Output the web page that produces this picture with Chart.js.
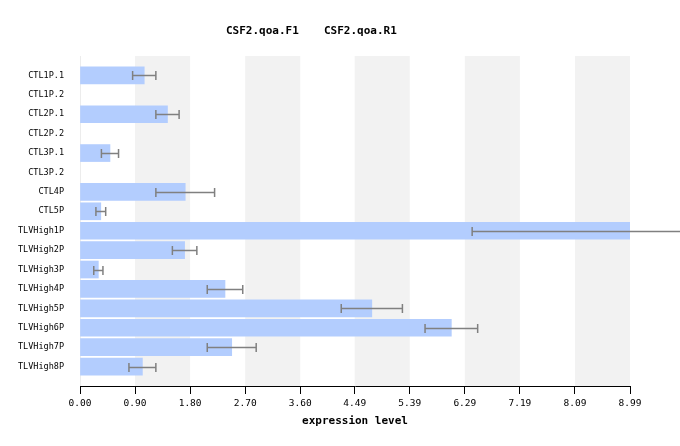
<!DOCTYPE html>
<html>
<head>
<meta charset="utf-8">
<script src="https://cdn.jsdelivr.net/npm/chart.js@4"></script>
<style>
  html, body { margin: 0; padding: 0; background: #fff; }
  #wrap { width: 680px; height: 446px; }
</style>
</head>
<body>
<div id="wrap"><canvas id="chart" width="680" height="446"></canvas></div>
<script>
// Data
const categories = [
  "CTL1P.1", "CTL1P.2", "CTL2P.1", "CTL2P.2", "CTL3P.1", "CTL3P.2",
  "CTL4P", "CTL5P", "TLVHigh1P", "TLVHigh2P", "TLVHigh3P", "TLVHigh4P",
  "TLVHigh5P", "TLVHigh6P", "TLVHigh7P", "TLVHigh8P"
];
const means = [1.05, null, 1.43, null, 0.49, null, 1.72, 0.34, 8.99, 1.71, 0.30, 2.37, 4.77, 6.07, 2.48, 1.02];
const errors = [0.19, null, 0.19, null, 0.14, null, 0.48, 0.08, 2.58, 0.20, 0.075, 0.29, 0.50, 0.43, 0.40, 0.22];
const tickLabels = ["0.00", "0.90", "1.80", "2.70", "3.60", "4.49", "5.39", "6.29", "7.19", "8.09", "8.99"];
const seriesNames = ["CSF2.qoa.F1", "CSF2.qoa.R1"];

const MONO = "'DejaVu Sans Mono', monospace";

// alternating grey bands between ticks + faint left line
const bandsPlugin = {
  id: "bands",
  beforeDatasetsDraw(chart) {
    const { ctx, chartArea, scales } = chart;
    const x = scales.x;
    ctx.save();
    ctx.fillStyle = "#f2f2f2";
    for (let i = 1; i + 1 < tickLabels.length; i += 2) {
      const x0 = x.getPixelForValue(Number(tickLabels[i]));
      const x1 = x.getPixelForValue(Number(tickLabels[i + 1]));
      ctx.fillRect(x0, chartArea.top, x1 - x0, chartArea.bottom - chartArea.top);
    }
    ctx.strokeStyle = "#ececec";
    ctx.lineWidth = 1;
    ctx.beginPath();
    ctx.moveTo(chartArea.left + 0.5, chartArea.top);
    ctx.lineTo(chartArea.left + 0.5, chartArea.bottom);
    ctx.stroke();
    ctx.restore();
  }
};

// error bars drawn from the data arrays, not clipped to the chart area
const errorBarPlugin = {
  id: "errorBars",
  afterDatasetsDraw(chart) {
    const { ctx, scales } = chart;
    ctx.save();
    ctx.strokeStyle = "#808080";
    ctx.lineWidth = 1.5;
    means.forEach((m, i) => {
      if (m == null || errors[i] == null) return;
      const y = Math.round(scales.y.getPixelForValue(i)) + 0.5;
      const lo = scales.x.getPixelForValue(m - errors[i]);
      const hi = scales.x.getPixelForValue(m + errors[i]);
      ctx.beginPath();
      ctx.moveTo(lo, y);
      ctx.lineTo(hi, y);
      ctx.moveTo(lo, y - 4.5);
      ctx.lineTo(lo, y + 4.5);
      ctx.moveTo(hi, y - 4.5);
      ctx.lineTo(hi, y + 4.5);
      ctx.stroke();
    });
    ctx.restore();
  }
};

// header text and axis title
const textPlugin = {
  id: "texts",
  afterDraw(chart) {
    const { ctx, chartArea } = chart;
    ctx.save();
    ctx.fillStyle = "#000";
    ctx.font = "bold 11px " + MONO;
    ctx.textBaseline = "middle";
    ctx.textAlign = "left";
    ctx.fillText(seriesNames[0], 226, 31);
    ctx.fillText(seriesNames[1], 324, 31);
    ctx.textAlign = "center";
    ctx.fillText("expression level", (chartArea.left + chartArea.right) / 2, 421);
    ctx.restore();
  }
};

const chart = new Chart(document.getElementById("chart"), {
  type: "bar",
  data: {
    datasets: [{
      label: seriesNames.join(" "),
      data: means.map((m, i) => ({ x: m, y: i })),
      backgroundColor: "#b3cdfe",
      borderWidth: 0,
      barThickness: 17
    }]
  },
  plugins: [bandsPlugin, errorBarPlugin, textPlugin],
  options: {
    indexAxis: "y",
    responsive: false,
    animation: false,
    layout: { padding: { top: 56, right: 50, left: 0, bottom: 0 } },
    plugins: {
      legend: { display: false },
      title: { display: false },
      tooltip: { enabled: false }
    },
    scales: {
      x: {
        type: "linear",
        min: 0,
        max: Number(tickLabels[tickLabels.length - 1]),
        afterBuildTicks(scale) {
          scale.ticks = tickLabels.map((t) => ({ value: Number(t), label: t }));
        },
        afterFit(scale) { scale.height = 60; },
        grid: { drawOnChartArea: false, drawTicks: true, tickLength: 8, color: "#000" },
        border: { display: true, color: "#000", width: 1 },
        ticks: {
          color: "#000",
          font: { family: MONO, size: 9.5 },
          padding: 4,
          maxRotation: 0,
          autoSkip: false,
          callback: (v, i) => tickLabels[i]
        }
      },
      y: {
        type: "linear",
        reverse: true,
        min: -1,
        max: categories.length,
        offset: false,
        afterBuildTicks(scale) {
          scale.ticks = categories.map((c, i) => ({ value: i }));
        },
        afterFit(scale) { scale.width = 80; },
        grid: { display: false, drawTicks: false },
        border: { display: false },
        ticks: {
          color: "#000",
          font: { family: MONO, size: 8.5 },
          padding: 16,
          autoSkip: false,
          callback: (v) => categories[v]
        }
      }
    }
  }
});
</script>
</body>
</html>
